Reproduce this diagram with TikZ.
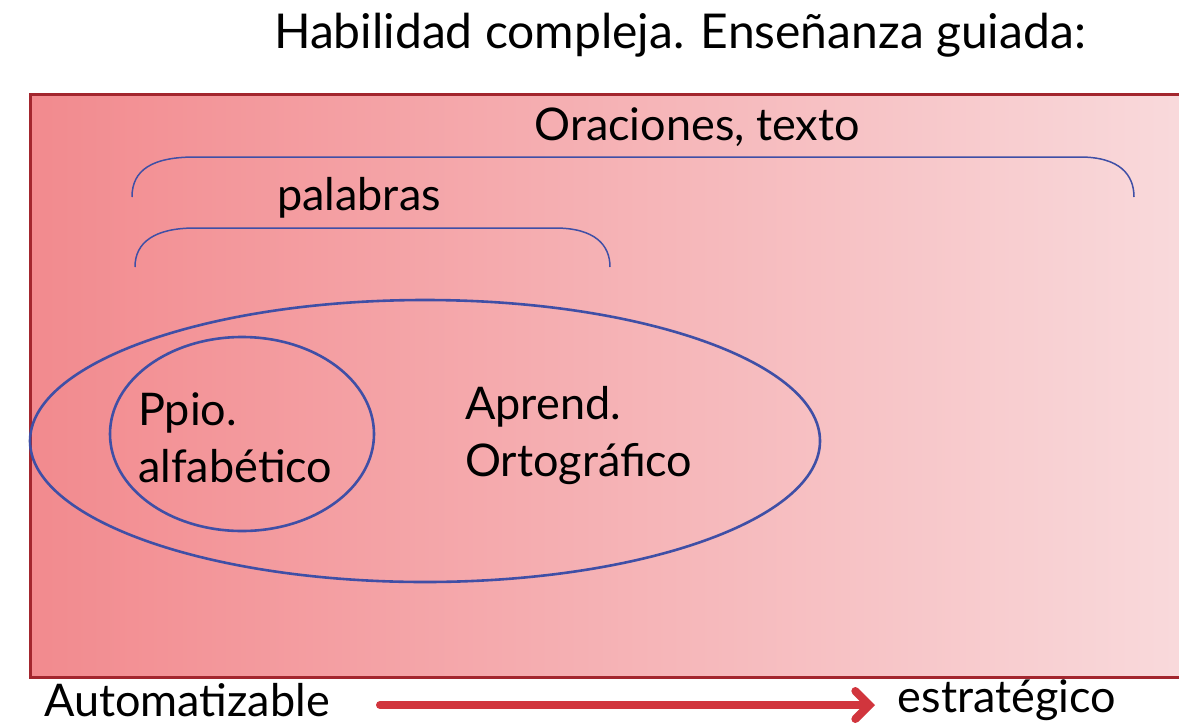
\documentclass[tikz,border=0pt]{standalone}
\usepackage{fontspec}
\setmainfont{Lato}
\usetikzlibrary{shapes.geometric,arrows.meta}
\definecolor{boxleft}{HTML}{F28A8E}
\definecolor{boxright}{HTML}{F9DADC}
\definecolor{boxborder}{HTML}{A3262E}
\definecolor{ellblue}{HTML}{3F4FA6}
\definecolor{arrred}{HTML}{D1353D}
\tikzset{
  txt/.style={font=\fontsize{45}{57}\selectfont, inner sep=0pt, text=black},
  brace/.style={draw=ellblue, line width=1.5pt},
  ell/.style={draw=ellblue, line width=2.6pt},
}
\begin{document}
\begin{tikzpicture}[x=1pt,y=-1pt]
\useasboundingbox (0,0) rectangle (1179,724);
\begin{scope}
\clip (0,0) rectangle (1179,724);
\shade[left color=boxleft, right color=boxright] (30,94) rectangle (1190,677);
\draw[boxborder, line width=3pt] (30,94) rectangle (1190,677);
\end{scope}
\node[txt, font=\fontsize{48}{56}\selectfont] (title) at (680,35) {Habilidad compleja. Enseñanza guiada:};
\node[txt] (orac) at (697,127) {Oraciones, texto};
\draw[brace] (132,197) .. controls (132,170) and (152,157) .. (195,157) -- (1080,157) .. controls (1120,157) and (1134,175) .. (1134,197);
\node[txt] (pal) at (359,198) {palabras};
\draw[brace] (135,267) .. controls (135,242) and (155,228) .. (195,228) -- (555,228) .. controls (595,228) and (610,245) .. (610,267);
\node[ell, ellipse, draw, minimum width=790, minimum height=282, inner sep=0pt] (big) at (425,441) {};
\node[ell, ellipse, draw, minimum width=264, minimum height=194, inner sep=0pt] (small) at (242,434) {};
\node[txt, align=left, anchor=west] (ppio) at (138,438) {Ppio.\\alfabético};
\node[txt, align=left, anchor=west] (aprend) at (465,436) {Aprend.\\Ortográfico};
\node[txt] (auto) at (187,700) {Automatizable};
\node[txt] (estr) at (1007,700) {estratégico};
\coordinate (a1) at (380,705);
\coordinate (a2) at (875,705);
\draw[arrred, line width=8pt, line cap=round, -{Straight Barb[length=14pt, width=28pt, line cap=round]}] (a1) -- (a2);
\end{tikzpicture}
\end{document}
